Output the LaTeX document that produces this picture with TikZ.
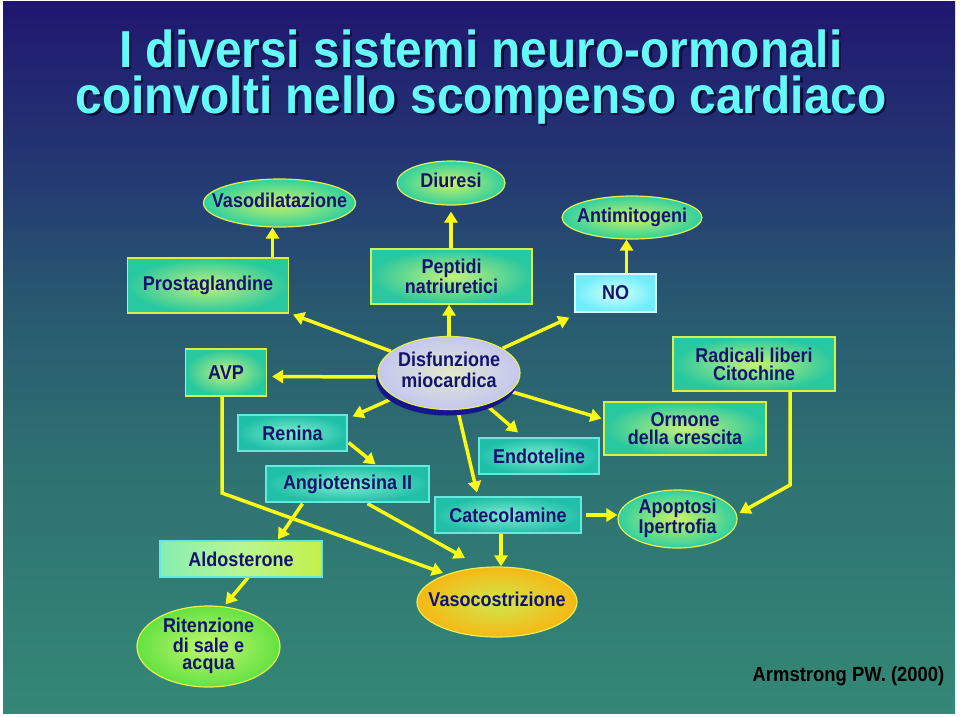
\documentclass[tikz,border=0pt]{standalone}
\usepackage{fontspec}
\setmainfont{Liberation Sans}
\newfontfamily\condfont{Liberation Sans}[FakeStretch=0.9]
\newfontfamily\titlecond{Liberation Sans}[FakeStretch=0.92]
\usetikzlibrary{shapes.geometric,arrows.meta,calc,shadings}
\definecolor{navy}{RGB}{20,20,110}
\definecolor{bgtop}{RGB}{32,22,112}
\definecolor{bgA}{RGB}{36,60,114}
\definecolor{bgB}{RGB}{40,88,112}
\definecolor{bgC}{RGB}{46,112,114}
\definecolor{bgbot}{RGB}{52,136,118}
\definecolor{arrowyellow}{RGB}{250,250,20}
\definecolor{gbin}{RGB}{196,242,120}
\definecolor{gbout}{RGB}{40,200,160}
\definecolor{gborder}{RGB}{214,240,70}
\definecolor{tbin}{RGB}{130,236,210}
\definecolor{tbout}{RGB}{32,192,168}
\definecolor{tborder}{RGB}{100,232,224}
\definecolor{gein}{RGB}{204,242,100}
\definecolor{geout}{RGB}{48,208,160}
\definecolor{eborder}{RGB}{226,240,80}
\definecolor{noin}{RGB}{210,255,255}
\definecolor{noout}{RGB}{110,238,250}
\definecolor{disin}{RGB}{226,234,204}
\definecolor{disout}{RGB}{196,198,240}
\definecolor{disshadow}{RGB}{22,22,140}
\definecolor{vain}{RGB}{206,232,80}
\definecolor{vaout}{RGB}{246,184,20}
\definecolor{riin}{RGB}{196,246,112}
\definecolor{riout}{RGB}{100,226,64}
\definecolor{alleft}{RGB}{134,238,176}
\definecolor{almid}{RGB}{184,246,150}
\definecolor{alright}{RGB}{196,240,72}
\definecolor{titlecyan}{RGB}{100,250,250}
\definecolor{titleshadow}{RGB}{12,12,60}
\pgfdeclareverticalshading{slidebg}{100bp}{color(0bp)=(bgbot); color(25bp)=(bgbot); color(43bp)=(bgC); color(54bp)=(bgB); color(62bp)=(bgA); color(75bp)=(bgtop); color(100bp)=(bgtop)}
\pgfdeclarelayer{back}
\pgfdeclarelayer{arrows}
\pgfsetlayers{back,arrows,main}
\newcommand\mynodefont{\condfont\fontsize{20}{18}\selectfont\bfseries}
\newcommand\nodetxt[1]{\makebox[0pt]{\begin{tabular}{@{}c@{}}#1\end{tabular}}}
\tikzset{
  arr/.style={draw=arrowyellow, line width=3.5pt, -{Triangle[length=11pt,width=13pt]}},
  box/.style={rectangle, line width=1.2pt, text=navy, font=\mynodefont, align=center, inner sep=0pt},
  greenbox/.style={box, draw=gborder, inner color=gbin, outer color=gbout},
  tealbox/.style={box, draw=tborder, inner color=tbin, outer color=tbout},
  ell/.style={ellipse, line width=1.2pt, text=navy, font=\mynodefont, inner sep=0pt},
  greenell/.style={ell, draw=eborder, inner color=gein, outer color=geout},
  titletext/.style={font=\titlecond\fontsize{52}{46}\selectfont\bfseries, inner sep=0pt, align=center, anchor=base},
}
\begin{document}
\begin{tikzpicture}[x=1pt,y=-1pt]
\useasboundingbox (0,0) rectangle (960,716);
\begin{pgfonlayer}{back}
\fill[white] (0,0) rectangle (960,716);
\shade[shading=slidebg] (3,1) rectangle (955,713);
\end{pgfonlayer}

% title (shadow, then text)
\node[titletext, text=titleshadow] (titles) at (483.5,115.5) {I diversi sistemi neuro-ormonali\\coinvolti nello scompenso cardiaco};
\node[titletext, text=titlecyan] (title) at (481,113) {I diversi sistemi neuro-ormonali\\coinvolti nello scompenso cardiaco};

% nodes
\node[greenell, minimum width=152pt, minimum height=48pt] (vasod) at (279.5,203) {\nodetxt{Vasodilatazione}};
\node[greenell, minimum width=108pt, minimum height=44pt] (diur) at (451,183) {\nodetxt{Diuresi}};
\node[greenell, minimum width=140pt, minimum height=43pt] (antim) at (632,217.5) {\nodetxt{Antimitogeni}};
\node[greenbox, minimum width=161pt, minimum height=55pt] (prost) at (208,285.5) {Prostaglandine};
\node[greenbox, minimum width=161pt, minimum height=55pt] (pept) at (451.5,276.5) {Peptidi\\natriuretici};
\node[box, draw=noin, inner color=noin, outer color=noout, minimum width=81pt, minimum height=38pt] (no) at (615.5,293) {NO};
\node[greenbox, minimum width=81pt, minimum height=47pt] (avp) at (226,372.5) {AVP};
\node[ell, draw=eborder, inner color=disin, outer color=disout, minimum width=142pt, minimum height=73pt,
      preaction={fill=disshadow, transform canvas={xshift=-2pt,yshift=-6pt}}] (disf) at (449,373)
      {\fontsize{20}{21}\selectfont\nodetxt{Disfunzione\\miocardica}};
\node[greenbox, minimum width=162pt, minimum height=54pt] (radic) at (754,364) {Radicali liberi\\Citochine};
\node[tealbox, minimum width=109pt, minimum height=36pt] (renina) at (292.5,433) {Renina};
\node[greenbox, minimum width=162pt, minimum height=53pt] (ormone) at (685,428.5) {Ormone\\della crescita};
\node[tealbox, minimum width=120pt, minimum height=36pt] (endot) at (539,456) {Endoteline};
\node[tealbox, minimum width=163pt, minimum height=36pt] (angio) at (347.5,484) {Angiotensina II};
\node[tealbox, minimum width=146pt, minimum height=36pt] (catec) at (508,515) {Catecolamine};
\node[greenell, minimum width=119pt, minimum height=58pt] (apopt) at (677.5,519) {\fontsize{20}{17}\selectfont\nodetxt{Apoptosi\\Ipertrofia}};
\node[box, draw=tborder, left color=alleft, right color=alright, middle color=almid, minimum width=162pt, minimum height=36pt] (aldo) at (241,559) {Aldosterone};
\node[ell, draw=eborder, inner color=vain, outer color=vaout, minimum width=160pt, minimum height=70pt] (vaso) at (497,602) {\nodetxt{Vasocostrizione}};
\node[ell, draw=eborder, inner color=riin, outer color=riout, minimum width=143pt, minimum height=81pt] (rit) at (208.5,646.5) {\fontsize{20}{17}\selectfont\nodetxt{Ritenzione\\di sale e\\acqua}};
\node[font=\condfont\fontsize{20.5}{20}\selectfont\bfseries, text=black, inner sep=0pt] (ref) at (848.5,676) {Armstrong PW. (2000)};

% helper coordinates
\coordinate (avpbend) at (222,493);
\coordinate (radbend) at (790,485);
\coordinate (catvx) at (501,0);

\begin{pgfonlayer}{arrows}
\draw[arr] ([xshift=-7pt]vasod.south |- prost.north) -- ([xshift=-7pt]vasod.south);
\draw[arr] (pept.north -| diur.south) -- ([yshift=-6pt]diur.south);
\draw[arr] ([xshift=11pt]no.north) -- ([xshift=11pt]no.north |- antim.south);
\draw[arr] (disf) -- ($(prost.south east)+(4,1)$);
\draw[arr] (disf.north) -- (disf.north |- pept.south);
\draw[arr] (disf) -- ($(no.south west)+(-5,5)$);
\draw[arr] ([yshift=-4pt]disf.west) -- ([xshift=5pt,yshift=-4pt]avp.east);
\draw[arr] (disf) -- ($(renina.north east)+(5,2)$);
\draw[arr] ($(renina.south east)+(1,-9)$) -- ($(angio.north)+(28,-1)$);
\draw[arr] (disf) -- ($(endot.north)+(-21,-5)$);
\draw[arr] (disf) -- ($(catec.north)+(-31,-4)$);
\draw[arr] (disf) -- ($(ormone.west)+(-2,-10)$);
\draw[arr] (avp.south -| avpbend) -- (avpbend) -- ($(vaso.center)+(-54,-29)$);
\draw[arr] ($(angio.south)+(-45,1)$) -- ($(aldo.north)+(37,-1)$);
\draw[arr] ($(angio.south)+(20,1)$) -- ($(vaso.center)+(-32,-44)$);
\draw[arr] (catec.south -| catvx) -- (vaso.north -| catvx);
\draw[arr] ([xshift=4pt]catec.east) -- (apopt.west |- catec.east);
\draw[arr] (radic.south -| radbend) -- (radbend) -- ($(apopt.center)+(62,-6)$);
\draw[arr] ($(aldo.south)+(7,0)$) -- ($(rit.north)+(17,-1)$);
\end{pgfonlayer}
\end{tikzpicture}
\end{document}
